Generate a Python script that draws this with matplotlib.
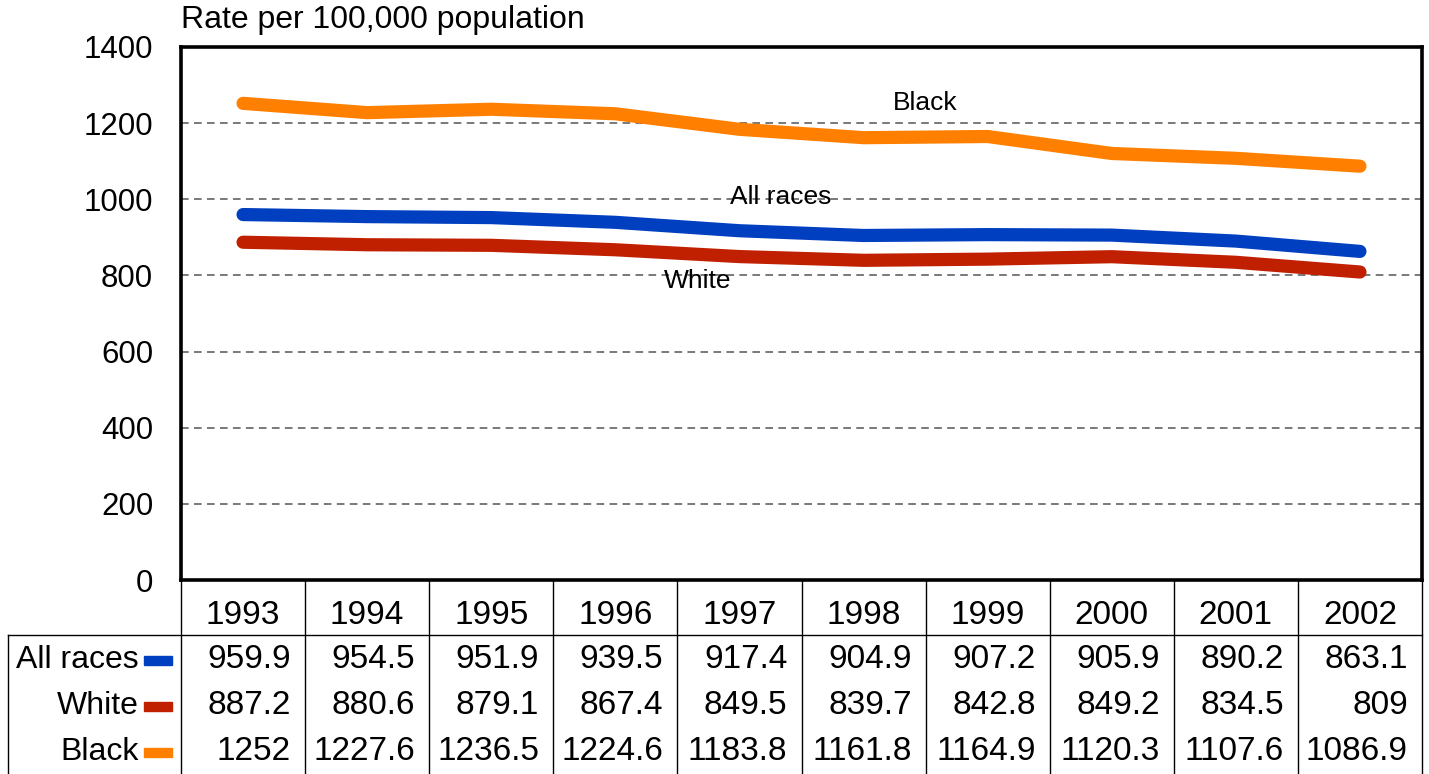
import matplotlib.pyplot as plt
import numpy as np

plt.rcParams['font.family'] = ['Liberation Sans', 'DejaVu Sans']

years = ["1993", "1994", "1995", "1996", "1997", "1998", "1999", "2000", "2001", "2002"]
all_races = [959.9, 954.5, 951.9, 939.5, 917.4, 904.9, 907.2, 905.9, 890.2, 863.1]
white = [887.2, 880.6, 879.1, 867.4, 849.5, 839.7, 842.8, 849.2, 834.5, 809]
black = [1252, 1227.6, 1236.5, 1224.6, 1183.8, 1161.8, 1164.9, 1120.3, 1107.6, 1086.9]

series = [
    ("All races", all_races, "#0040C0"),
    ("White", white, "#C02000"),
    ("Black", black, "#FF8000"),
]

W, H = 1429, 774
fig = plt.figure(figsize=(W / 100, H / 100), dpi=100)
ax = fig.add_axes([181 / W, 1 - 580 / H, (1422 - 181) / W, (580 - 47) / H])

x = np.arange(len(years))
for name, vals, col in series:
    ax.plot(x, vals, color=col, lw=9.5, solid_capstyle="round", solid_joinstyle="round", zorder=3)

ax.set_xlim(-0.5, len(years) - 0.5)
ax.set_ylim(0, 1400)
ax.set_yticks(range(0, 1401, 200))
ax.set_xticks([])
ax.tick_params(axis="y", length=0, pad=20, labelsize=22.5)
for y in range(200, 1400, 200):
    ax.axhline(y, color="#555555", lw=1.1, ls=(0, (5, 3.5)), zorder=1)
for s in ax.spines.values():
    s.set_linewidth(2.6)
    s.set_color("black")

# inline labels
ax.text(5.5, 1253, "Black", fontsize=19, ha="center", va="center", zorder=4)
ax.text(4.33, 1006, "All races", fontsize=19, ha="center", va="center", zorder=4)
ax.text(3.66, 785, "White", fontsize=19, ha="center", va="center", zorder=4)

fig.text(181 / W, 1 - 20 / H, "Rate per 100,000 population", fontsize=23, ha="left", va="center")

# data table below the axes (figure pixel coords for layout)
def fx(px):
    return px / W

def fy(py):
    return 1 - py / H

cw = (1422 - 181) / len(years)
line_kw = dict(color="black", lw=1.0, transform=fig.transFigure)
for k in range(len(years) + 1):
    xp = 181 + cw * k
    fig.add_artist(plt.Line2D([fx(xp), fx(xp)], [fy(580), fy(774)], **line_kw))
fig.add_artist(plt.Line2D([fx(8), fx(1422)], [fy(635), fy(635)], **line_kw))
fig.add_artist(plt.Line2D([fx(8), fx(8)], [fy(635), fy(774)], **line_kw))

for k, yr in enumerate(years):
    fig.text(fx(181 + cw * (k + 0.5)), fy(615), yr, fontsize=24, ha="center", va="center")

row_y = [660, 706, 752]
for (name, vals, col), ry in zip(series, row_y):
    fig.text(fx(139), fy(ry), name, fontsize=23, ha="right", va="center")
    fig.add_artist(plt.Rectangle((fx(144), fy(ry + 5)), fx(28), 9 / H, color=col, transform=fig.transFigure))
    for k, v in enumerate(vals):
        fig.text(fx(181 + cw * (k + 1) - 14), fy(ry), f"{v:g}", fontsize=24, ha="right", va="center")

fig.savefig("out.png", dpi=100)
